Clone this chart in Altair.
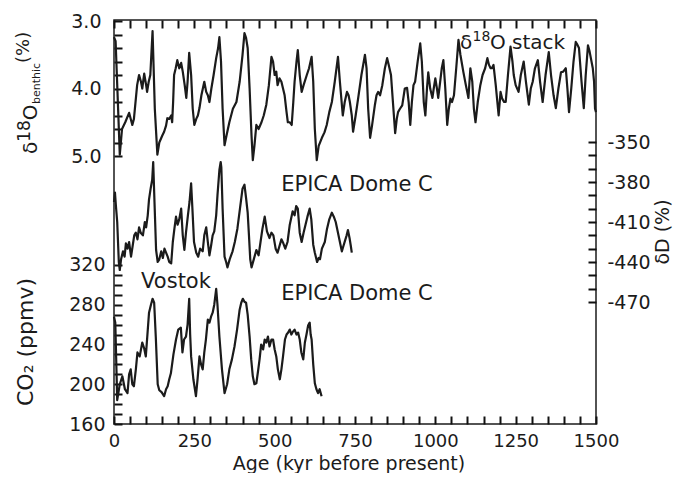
import altair as alt
import pandas as pd

# ---------------- data ----------------
d18o_age = [0, 5, 12, 18, 25, 35, 47, 57, 62, 72, 78, 84, 88, 94, 100, 103, 108, 113, 120,
            127, 135, 141, 150, 156, 162, 166, 172, 178, 181, 184, 187, 192, 197, 203, 209, 214,
            220, 225, 229, 234, 240, 245, 250, 256, 261, 266, 272, 281, 287, 292, 297, 303, 310,
            318, 324, 328, 333, 338, 344, 350, 359, 370, 381, 391, 400, 406, 411, 416, 422, 428,
            432, 437, 443, 450, 459, 466, 474, 482, 490, 495, 500, 505, 509, 515, 521, 526, 531,
            537, 541, 547, 553, 558, 562, 568, 572, 578, 584, 590, 600, 607, 615, 620, 625, 631,
            637, 647, 655, 662, 670, 678, 687, 697, 703, 712, 718, 725, 730, 734, 740, 744, 752,
            760, 770, 781, 786, 791, 797, 803, 812, 817, 822, 828, 835, 843, 850, 855, 862, 868,
            875, 880, 884, 890, 897, 905, 912, 917, 922, 927, 932, 937, 945, 953, 958, 964, 969,
            974, 978, 984, 991, 995, 1000, 1005, 1009, 1015, 1020, 1025, 1031, 1037, 1042, 1047,
            1052, 1058, 1065, 1072, 1078, 1087, 1095, 1103, 1109, 1115, 1120, 1125, 1132, 1140,
            1147, 1155, 1162, 1167, 1172, 1176, 1181, 1188, 1197, 1203, 1208, 1214, 1219, 1226,
            1234, 1240, 1244, 1250, 1259, 1266, 1275, 1282, 1291, 1297, 1303, 1310, 1319, 1326,
            1334, 1343, 1353, 1360, 1368, 1375, 1383, 1391, 1398, 1406, 1411, 1416, 1423, 1430,
            1437, 1442, 1447, 1455, 1462, 1468, 1475, 1480, 1484, 1490, 1494, 1497, 1500]
d18o_val = [3.24, 3.3, 4.2, 4.98, 4.6, 4.5, 4.36, 4.54, 4.45, 3.95, 3.8, 3.9, 4.0, 3.78, 3.95, 4.05,
            3.9, 3.8, 3.15, 4.3, 4.98, 4.8, 4.7, 4.64, 4.55, 4.44, 4.45, 4.4, 4.5, 4.2, 3.8, 3.7,
            3.58, 3.7, 3.62, 3.75, 3.95, 4.14, 3.9, 3.47, 3.8, 4.3, 4.54, 4.45, 4.4, 4.29, 4.1, 3.9,
            4.05, 4.1, 4.2, 4.0, 3.8, 3.55, 3.4, 3.24, 3.6, 4.3, 4.84, 4.7, 4.5, 4.3, 4.2, 3.9, 3.5,
            3.18, 3.25, 3.4, 4.0, 4.7, 5.06, 4.85, 4.54, 4.6, 4.5, 4.4, 4.24, 3.95, 3.53, 3.6, 3.8,
            3.75, 3.95, 3.85, 3.9, 4.0, 4.1, 4.35, 4.5, 4.5, 4.54, 4.2, 3.9, 3.6, 3.43, 3.8, 4.05,
            3.95, 3.8, 3.7, 3.53, 3.9, 4.6, 5.06, 4.85, 4.73, 4.65, 4.54, 4.35, 4.2, 3.9, 3.53, 3.9,
            4.4, 4.2, 4.05, 4.1, 4.2, 4.4, 4.64, 4.4, 4.14, 3.8, 3.5, 3.7, 4.3, 4.73, 4.55, 4.24,
            4.1, 4.05, 4.1, 3.95, 3.7, 3.55, 3.65, 3.8, 4.2, 4.66, 4.45, 4.35, 4.3, 4.25, 4.0, 3.99,
            4.2, 4.54, 4.2, 3.95, 3.9, 3.6, 3.33, 3.6, 4.2, 4.4, 4.0, 3.76, 4.0, 4.14, 4.0, 3.85,
            4.0, 4.14, 3.9, 3.7, 3.58, 4.0, 4.54, 4.3, 4.15, 4.2, 4.1, 3.7, 3.28, 3.5, 3.75, 3.95,
            4.14, 3.7, 3.9, 4.3, 4.5, 4.2, 3.95, 3.8, 3.7, 3.55, 3.65, 3.7, 3.7, 3.65, 3.95, 4.4,
            4.05, 4.15, 4.2, 4.2, 3.8, 3.38, 3.6, 3.8, 3.95, 4.05, 3.8, 3.6, 3.9, 4.24, 4.0, 3.9,
            3.7, 3.58, 3.9, 4.2, 3.8, 3.46, 3.8, 4.1, 4.29, 4.0, 3.76, 3.75, 3.7, 4.0, 4.35, 4.0,
            3.6, 3.31, 3.35, 3.4, 3.9, 4.29, 3.8, 3.36, 3.45, 3.55, 3.7, 3.9, 4.3, 4.35]

dD_age = [0, 3, 6, 10, 15, 18, 22, 28, 33, 37, 42, 47, 53, 58, 63, 68, 73, 78, 83, 90, 96, 100,
          105, 109, 114, 119, 122, 126, 131, 136, 141, 147, 152, 157, 162, 167, 172, 178, 183,
          188, 193, 198, 203, 209, 214, 219, 224, 230, 235, 240, 244, 249, 256, 262, 268, 276,
          281, 287, 292, 297, 302, 307, 312, 318, 322, 328, 332, 334, 338, 344, 349, 353, 360,
          369, 376, 384, 392, 400, 406, 411, 416, 420, 424, 428, 435, 443, 450, 456, 462, 469,
          476, 484, 490, 496, 503, 509, 515, 521, 527, 533, 540, 547, 556, 562, 567, 572, 578,
          584, 590, 596, 602, 609, 614, 620, 625, 632, 637, 641, 647, 656, 663, 670, 678, 684,
          690, 697, 703, 709, 714, 719, 724, 728, 733, 737, 740]
dD_val = [-395, -388, -398, -410, -440, -446, -438, -432, -436, -426, -430, -425, -436, -428,
          -420, -418, -423, -414, -418, -420, -410, -414, -405, -393, -385, -378, -365, -395,
          -431, -440, -438, -432, -437, -430, -433, -436, -440, -441, -425, -415, -406, -412,
          -408, -400, -420, -431, -418, -405, -395, -381, -400, -425, -433, -436, -430, -432,
          -420, -414, -425, -435, -428, -420, -417, -405, -390, -371, -365, -369, -400, -436,
          -440, -444, -438, -432, -425, -415, -400, -385, -382, -392, -403, -420, -438, -444,
          -438, -431, -435, -425, -415, -406, -417, -422, -418, -420, -430, -433, -428, -423,
          -426, -430, -425, -412, -402, -405, -398, -400, -418, -425, -418, -412, -406, -400,
          -408, -427, -433, -440, -437, -438, -430, -425, -415, -408, -403, -406, -410, -418,
          -425, -432, -428, -424, -420, -416, -422, -428, -433]

co2_age = [0, 4, 10, 18, 26, 34, 42, 47, 52, 57, 62, 68, 73, 80, 88, 94, 99, 104, 109, 115, 120,
           125, 130, 136, 141, 148, 156, 162, 167, 172, 177, 185, 193, 200, 208, 213, 218, 224,
           229, 234, 237, 240, 247, 255, 260, 266, 271, 276, 281, 286, 292, 297, 302, 307, 312,
           318, 322, 328, 336, 344, 352, 359, 367, 375, 383, 391, 396, 401, 406, 411, 416, 422,
           427, 432, 437, 443, 449, 453, 458, 464, 469, 474, 479, 484, 490, 495, 500, 505, 510,
           516, 521, 526, 532, 537, 542, 547, 552, 557, 562, 568, 573, 578, 583, 589, 594, 599,
           604, 609, 612, 615, 620, 625, 630, 635, 640, 646]
co2_val = [268, 262, 184, 200, 208, 195, 191, 210, 215, 200, 198, 215, 232, 228, 242, 236, 228,
           250, 272, 280, 286, 282, 248, 200, 194, 192, 188, 195, 198, 205, 211, 230, 245, 255,
           257, 232, 245, 248, 260, 286, 250, 228, 205, 188, 205, 228, 220, 215, 232, 245, 265,
           262, 268, 272, 280, 296, 280, 248, 215, 191, 200, 215, 225, 238, 255, 275, 282, 286,
           283, 282, 270, 248, 225, 208, 200, 201, 215, 225, 240, 235, 245, 242, 248, 238, 245,
           245, 235, 228, 215, 205, 215, 228, 245, 250, 252, 255, 250, 253, 255, 250, 252, 245,
           232, 225, 242, 250, 259, 262, 250, 245, 220, 201, 195, 191, 195, 188]

x_ticks = list(range(0, 1501, 50))
d18o_ticks = [3.0, 3.2, 3.4, 3.6, 3.8, 4.0, 4.2, 4.4, 4.6, 4.8, 5.0]
co2_ticks = list(range(160, 321, 10))
dD_ticks = list(range(-470, -349, 10))

# ---------------- styling ----------------
FONT = "DejaVu Sans"
INK = "#1b1b1b"
W, H = 482, 404
TS = 8
TICK = dict(ticks=True, tickColor="#111111", tickWidth=2, tickOpacity=1, tickSize=TS,
            offset=-TS, domain=False, grid=False,
            labelFont=FONT, labelColor=INK, labelFlush=False, labelOverlap=False,
            title=None)

xscale = alt.Scale(domain=[0, 1500], nice=False, zero=False)
x_bottom = alt.Axis(orient="bottom", values=x_ticks, format="d",
                    labelFontSize=18, labelPadding=8,
                    labelExpr="datum.value % 250 == 0 ? datum.label : ''", **TICK)
x_top = alt.Axis(orient="top", values=x_ticks, labels=False, **TICK)

y_d18o = alt.Scale(domain=[2.985, 8.97], reverse=True, nice=False, zero=False)
y_co2 = alt.Scale(domain=[160, 566.5], nice=False, zero=False)
y_dD = alt.Scale(domain=[-561.5, -258.5], nice=False, zero=False)

ax_d18o = alt.Axis(orient="left", values=d18o_ticks, labelFontSize=19, labelPadding=13,
                   labelExpr="abs(datum.value - round(datum.value)) < 0.01 ? format(datum.value, '.1f') : ''",
                   **TICK)
ax_co2 = alt.Axis(orient="left", values=co2_ticks, labelFontSize=19, labelPadding=9,
                  labelExpr="datum.value % 40 == 0 ? format(datum.value, 'd') : ''", **TICK)
ax_dD = alt.Axis(orient="right", values=dD_ticks, labelFontSize=19, labelPadding=11,
                 labelExpr="(datum.value + 350) % 30 == 0 ? '-' + abs(datum.value) : ''", **TICK)


def series(df, scale, yax, xax):
    return alt.Chart(df).mark_line(color=INK, strokeWidth=2.2, strokeJoin="round").encode(
        x=alt.X("age:Q", scale=xscale, axis=xax),
        y=alt.Y("v:Q", scale=scale, axis=yax),
    )


def label(txt, x, y, size=20, angle=0, align="center", baseline="middle"):
    kw = dict(text=txt, font=FONT, fontSize=size, color=INK, align=align, baseline=baseline)
    if angle:
        kw["angle"] = angle
    return alt.Chart(alt.Data(values=[{}])).mark_text(**kw).encode(
        x=alt.value(x), y=alt.value(y))


d18o_df = pd.DataFrame({"age": d18o_age, "v": d18o_val})
dD_df = pd.DataFrame({"age": dD_age, "v": dD_val})
co2_df = pd.DataFrame({"age": co2_age, "v": co2_val})

layers = [
    series(d18o_df, y_d18o, ax_d18o, x_bottom),
    series(dD_df, y_dD, ax_dD, x_top),
    series(co2_df, y_co2, ax_co2, None),
    # annotations
    label("δ", 346, 29, align="left", baseline="alphabetic"),
    label("18", 358.5, 21, size=14, align="left", baseline="alphabetic"),
    label("O stack", 376, 29, align="left", baseline="alphabetic"),
    label("EPICA Dome C", 243, 165, size=21),
    label("Vostok", 62, 262, size=21),
    label("EPICA Dome C", 243, 274, size=21),
    # left axis title  δ18O_benthic (%)
    label("δ", -77, 134, angle=270, align="left", baseline="alphabetic"),
    label("18", -84, 121.8, size=17, angle=270, align="left", baseline="alphabetic"),
    label("O", -77, 100.2, angle=270, align="left", baseline="alphabetic"),
    label("benthic", -74, 84, size=11, angle=270, align="left", baseline="alphabetic"),
    label("(%)", -85, 43, size=18, angle=270, align="left", baseline="alphabetic"),
    label("CO₂ (ppmv)", -81, 322, size=22, angle=270, baseline="alphabetic"),
    label("δD (%)", 555, 212, size=19, angle=270, baseline="alphabetic"),
    label("Age (kyr before present)", 235, 450, size=19, baseline="alphabetic"),
]

chart = alt.layer(*layers).resolve_scale(y="independent").resolve_axis(
    x="independent", y="independent").properties(
    width=W, height=H,
    background="white",
    autosize=alt.AutoSizeParams(type="none"),
    padding={"left": 106, "top": 12, "right": 79, "bottom": 49},
).configure_view(stroke=INK, strokeWidth=1.5)

chart.save("out.html", embed_options={"renderer": "svg", "actions": False})
